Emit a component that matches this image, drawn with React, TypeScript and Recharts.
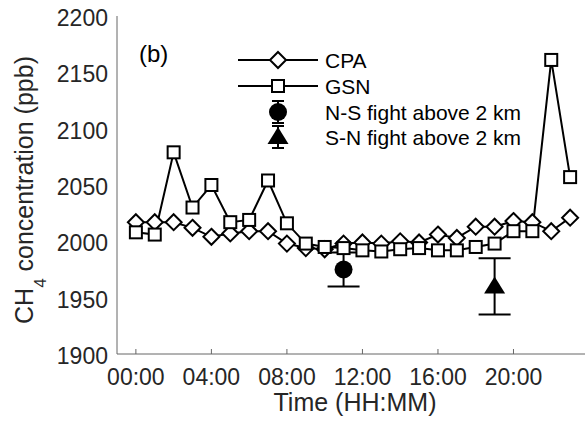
import React from 'react';
import { ComposedChart, Line, Scatter, XAxis, YAxis, ErrorBar } from 'recharts';

// ---- data ----
const hours = [0, 1, 2, 3, 4, 5, 6, 7, 8, 9, 10, 11, 12, 13, 14, 15, 16, 17, 18, 19, 20, 21, 22, 23];
const cpaValues = [2017, 2017, 2017, 2012, 2004, 2007, 2009, 2009, 1998, 1994, 1993, 1998, 1999, 1998, 2000, 1999, 2006, 2003, 2013, 2013, 2018, 2017, 2009, 2021];
const gsnValues = [2008, 2006, 2079, 2030, 2050, 2017, 2019, 2054, 2016, 1998, 1995, 1994, 1992, 1991, 1993, 1994, 1992, 1992, 1995, 1998, 2009, 2009, 2161, 2057];
const flightNames = ['N-S fight above 2 km', 'S-N fight above 2 km'];
const flightHours = [11, 19];
const flightValues = [1975, 1960];
const flightErrors = [15, 25];
const xTickHours = [0, 4, 8, 12, 16, 20];
const xTickLabels = ['00:00', '04:00', '08:00', '12:00', '16:00', '20:00'];
const yTicks = [1900, 1950, 2000, 2050, 2100, 2150, 2200];
const seriesNames = ['CPA', 'GSN'];

const rows = hours.map((h, i) => ({ hour: h, cpa: cpaValues[i], gsn: gsnValues[i] }));
const nsData = [{ hour: flightHours[0], value: flightValues[0], err: flightErrors[0] }];
const snData = [{ hour: flightHours[1], value: flightValues[1], err: flightErrors[1] }];

const FONT = '"Liberation Sans", Arial, Helvetica, sans-serif';
const AXIS = '#666666';
const TEXT = '#262626';

const diamondPts = (cx: number, cy: number, r: number) =>
  `${cx},${cy - r} ${cx + r},${cy} ${cx},${cy + r} ${cx - r},${cy}`;

const DiamondDot = (p: any) => {
  if (p.cx == null || p.cy == null) return <g key={`d${p.index}`} />;
  return <polygon key={`d${p.index}`} points={diamondPts(p.cx, p.cy, 8)} fill="#fff" stroke="#000" strokeWidth={2} />;
};
const SquareDot = (p: any) => {
  if (p.cx == null || p.cy == null) return <g key={`s${p.index}`} />;
  return <rect key={`s${p.index}`} x={p.cx - 6} y={p.cy - 6} width={12} height={12} fill="#fff" stroke="#000" strokeWidth={2} />;
};
const CircleShape = (p: any) => <circle cx={p.cx} cy={p.cy} r={9} fill="#000" />;
const TriangleShape = (p: any) => (
  <polygon points={`${p.cx},${p.cy - 10} ${p.cx + 10.5},${p.cy + 7} ${p.cx - 10.5},${p.cy + 7}`} fill="#000" />
);

const BottomTick = (p: any) => {
  const idx = xTickHours.indexOf(p.payload.value);
  return (
    <g>
      <line x1={p.x} y1={p.y} x2={p.x} y2={p.y - 5} stroke={AXIS} strokeWidth={1} />
      <text x={p.x} y={p.y + 31} textAnchor="middle" fontSize={23} fill={TEXT} fontFamily={FONT}>
        {idx >= 0 ? xTickLabels[idx] : ''}
      </text>
    </g>
  );
};
const TopTick = (p: any) => <line x1={p.x} y1={p.y} x2={p.x} y2={p.y + 5} stroke={AXIS} strokeWidth={1} />;
const LeftTick = (p: any) => (
  <text x={p.x - 9} y={p.y + 10} textAnchor="end" fontSize={23} fill={TEXT} fontFamily={FONT}>
    {p.payload.value}
  </text>
);
const RightTick = (p: any) => <line x1={p.x} y1={p.y} x2={p.x - 5} y2={p.y} stroke={AXIS} strokeWidth={1} />;

const Overlay = () => {
  const lx1 = 238, lx2 = 318, mx = 278, tx = 325;
  const rowsY = [60, 86, 112, 137];
  return (
    <svg width={585} height={428} style={{ position: 'absolute', left: 0, top: 0, pointerEvents: 'none' }}>
      <text x={139} y={62} fontSize={24} fill="#000" fontFamily={FONT}>(b)</text>
      {/* legend */}
      <line x1={lx1} y1={rowsY[0]} x2={lx2} y2={rowsY[0]} stroke="#000" strokeWidth={2} />
      <polygon points={diamondPts(mx, rowsY[0], 8)} fill="#fff" stroke="#000" strokeWidth={2} />
      <line x1={lx1} y1={rowsY[1]} x2={lx2} y2={rowsY[1]} stroke="#000" strokeWidth={2} />
      <rect x={mx - 6} y={rowsY[1] - 6} width={12} height={12} fill="#fff" stroke="#000" strokeWidth={2} />
      <g stroke="#000" strokeWidth={2}>
        <line x1={mx} y1={rowsY[2] - 11} x2={mx} y2={rowsY[2] + 11} />
        <line x1={mx - 6} y1={rowsY[2] - 11} x2={mx + 6} y2={rowsY[2] - 11} />
        <line x1={mx - 6} y1={rowsY[2] + 11} x2={mx + 6} y2={rowsY[2] + 11} />
        <line x1={mx} y1={rowsY[3] - 11} x2={mx} y2={rowsY[3] + 11} />
        <line x1={mx - 6} y1={rowsY[3] - 11} x2={mx + 6} y2={rowsY[3] - 11} />
        <line x1={mx - 6} y1={rowsY[3] + 11} x2={mx + 6} y2={rowsY[3] + 11} />
      </g>
      <circle cx={mx} cy={rowsY[2]} r={9} fill="#000" />
      <polygon points={`${mx},${rowsY[3] - 10} ${mx + 10.5},${rowsY[3] + 7} ${mx - 10.5},${rowsY[3] + 7}`} fill="#000" />
      {[seriesNames[0], seriesNames[1], flightNames[0], flightNames[1]].map((t, i) => (
        <text key={t} x={tx} y={rowsY[i] + 7.5} fontSize={21} fill="#000" fontFamily={FONT}>{t}</text>
      ))}
      {/* axis titles */}
      <text x={355} y={411} textAnchor="middle" fontSize={25} fill={TEXT} fontFamily={FONT}>Time (HH:MM)</text>
      <text transform="translate(33,190) rotate(-90)" textAnchor="middle" fontSize={25} fill={TEXT} fontFamily={FONT}>
        CH<tspan dy={13} fontSize={17}>4</tspan><tspan dy={-13}> concentration (ppb)</tspan>
      </text>
    </svg>
  );
};

export default function App() {
  return (
    <div style={{ position: 'absolute', left: 0, top: 0, width: 585, height: 428, overflow: 'hidden', background: '#fff' }}>
      <ComposedChart width={600} height={428} data={rows} margin={{ top: 16, right: 11, bottom: 0, left: 0 }}>
        <XAxis
          dataKey="hour"
          type="number"
          domain={[-1, 24]}
          ticks={xTickHours}
          interval={0}
          height={74}
          tickSize={0}
          tickMargin={0}
          tickLine={false}
          axisLine={{ stroke: AXIS, strokeWidth: 1 }}
          tick={<BottomTick />}
          allowDataOverflow
        />
        <XAxis
          xAxisId="top"
          orientation="top"
          dataKey="hour"
          type="number"
          domain={[-1, 24]}
          ticks={xTickHours}
          interval={0}
          height={0}
          tickSize={0}
          tickMargin={0}
          tickLine={false}
          axisLine={{ stroke: AXIS, strokeWidth: 1 }}
          tick={<TopTick />}
          allowDataOverflow
        />
        <YAxis
          type="number"
          domain={[1900, 2200]}
          ticks={yTicks}
          interval={0}
          width={117}
          tickSize={0}
          tickMargin={0}
          tickLine={false}
          axisLine={{ stroke: AXIS, strokeWidth: 1 }}
          tick={<LeftTick />}
          allowDataOverflow
        />
        <YAxis
          yAxisId="right"
          orientation="right"
          type="number"
          domain={[1900, 2200]}
          ticks={yTicks}
          interval={0}
          width={0}
          tickSize={0}
          tickMargin={0}
          tickLine={false}
          axisLine={{ stroke: AXIS, strokeWidth: 1 }}
          tick={<RightTick />}
          allowDataOverflow
        />
        <Line
          dataKey="cpa"
          stroke="#000"
          strokeWidth={2}
          dot={(p: any) => <DiamondDot key={`cd${p.index}`} {...p} />}
          activeDot={false}
          isAnimationActive={false}
        />
        <Line
          dataKey="gsn"
          stroke="#000"
          strokeWidth={2}
          dot={(p: any) => <SquareDot key={`gd${p.index}`} {...p} />}
          activeDot={false}
          isAnimationActive={false}
        />
        <Scatter data={nsData} dataKey="value" shape={CircleShape} isAnimationActive={false}>
          <ErrorBar dataKey="err" direction="y" width={16} stroke="#000" strokeWidth={2} isAnimationActive={false} />
        </Scatter>
        <Scatter data={snData} dataKey="value" shape={TriangleShape} isAnimationActive={false}>
          <ErrorBar dataKey="err" direction="y" width={16} stroke="#000" strokeWidth={2} isAnimationActive={false} />
        </Scatter>
      </ComposedChart>
      <Overlay />
    </div>
  );
}
